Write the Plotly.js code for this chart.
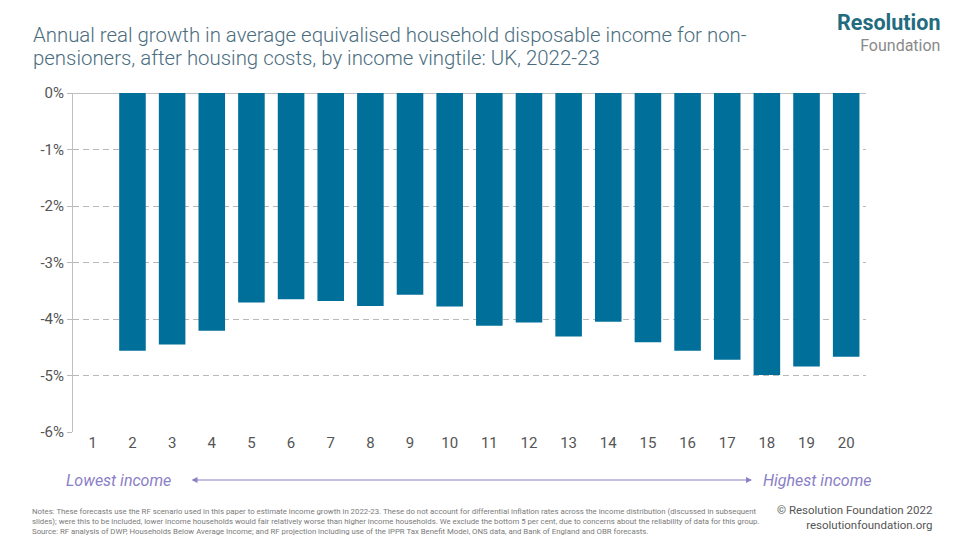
<!DOCTYPE html>
<html>
<head>
<meta charset="utf-8">
<script src="https://cdn.plot.ly/plotly-3.0.1.min.js"></script>
<style>html,body{margin:0;padding:0;background:#fff;}#chart{width:960px;height:540px;}</style>
</head>
<body>
<div id="chart"></div>
<script>
// Data
const vingtiles = ['1','2','3','4','5','6','7','8','9','10','11','12','13','14','15','16','17','18','19','20'];
const growth = [null, -4.56, -4.45, -4.21, -3.71, -3.65, -3.68, -3.77, -3.57, -3.78, -4.12, -4.06, -4.31, -4.05, -4.41, -4.56, -4.72, -4.99, -4.84, -4.67];
const yTickVals = [-6, -5, -4, -3, -2, -1, 0];
const yTickText = ['-6%', '-5%', '-4%', '-3%', '-2%', '-1%', '0%'];

const titleLine1 = 'Annual real growth in average equivalised household disposable income for non-';
const titleLine2 = 'pensioners, after housing costs, by income vingtile: UK, 2022-23';
const notesText = 'Notes: These forecasts use the RF scenario used in this paper to estimate income growth in 2022-23. These do not account for differential inflation rates across the income distribution (discussed in subsequent<br>' +
  'slides); were this to be included, lower income households would fair relatively worse than higher income households. We exclude the bottom 5 per cent, due to concerns about the reliability of data for this group.<br>' +
  'Source: RF analysis of DWP, Households Below Average Income; and RF projection including use of the IPPR Tax Benefit Model, ONS data, and Bank of England and OBR forecasts.';

const barColor = '#006f9a';
const purple = '#8a80c6';
const font = 'Roboto, "Open Sans", sans-serif';

// pixel helpers for layout placement (paper coordinates)
const L = 73, R = 866, T = 93, B = 432;
const px = v => (v - L) / (R - L);
const py = v => (B - v) / (B - T);

const trace = {
  type: 'bar',
  x: vingtiles,
  y: growth,
  marker: {color: barColor},
  hoverinfo: 'x+y'
};

const titleFont = {family: font, size: 20.4, color: '#4a6d7e', weight: 300};

const layout = {
  width: 960, height: 540,
  margin: {l: L, r: 960 - R, t: T, b: 540 - B},
  paper_bgcolor: '#ffffff', plot_bgcolor: '#ffffff',
  font: {family: font, color: '#555555'},
  showlegend: false,
  bargap: 0.33,
  xaxis: {
    type: 'category',
    range: [-0.5, 19.5],
    showgrid: false, zeroline: false, showline: false,
    ticks: '', ticklen: 0,
    tickfont: {family: font, size: 15, color: '#555555'},
    fixedrange: true
  },
  yaxis: {
    range: [-6, 0],
    tickvals: yTickVals, ticktext: yTickText,
    showgrid: true, gridcolor: '#b8b8b8', griddash: '6px,4px', gridwidth: 1,
    zeroline: true, zerolinecolor: '#c0c0c0', zerolinewidth: 1,
    showline: true, linecolor: '#c0c0c0', linewidth: 1,
    ticks: 'outside', ticklen: 5, tickcolor: '#b8b8b8',
    tickfont: {family: font, size: 15, color: '#555555'},
    fixedrange: true
  },
  annotations: [
    {xref: 'paper', yref: 'paper', x: px(31), y: py(35), xanchor: 'left', yanchor: 'middle',
     text: titleLine1, showarrow: false, font: titleFont},
    {xref: 'paper', yref: 'paper', x: px(31), y: py(58), xanchor: 'left', yanchor: 'middle',
     text: titleLine2, showarrow: false, font: titleFont},
    {xref: 'paper', yref: 'paper', x: px(874), y: py(480), xanchor: 'right', yanchor: 'middle',
     text: 'Highest income', showarrow: false, font: {family: font, size: 16, color: purple, style: 'italic'}},
    {xref: 'paper', yref: 'paper', x: px(64), y: py(480), xanchor: 'left', yanchor: 'middle',
     text: 'Lowest income', showarrow: false, font: {family: font, size: 16, color: purple, style: 'italic'}},
    {xref: 'paper', yref: 'paper', x: px(752), y: py(480), ax: -562, ay: 0, axref: 'pixel', ayref: 'pixel',
     text: '', showarrow: true, arrowside: 'end+start', arrowhead: 2, arrowsize: 1.2, arrowwidth: 1, arrowcolor: purple},
    {xref: 'paper', yref: 'paper', x: px(30), y: py(521), xanchor: 'left', yanchor: 'middle',
     text: notesText, showarrow: false, align: 'left', font: {family: font, size: 7.8, color: '#7a7a7a'}},
    {xref: 'paper', yref: 'paper', x: px(935), y: py(517), xanchor: 'right', yanchor: 'middle',
     text: '© Resolution Foundation 2022<br>resolutionfoundation.org', showarrow: false, align: 'right',
     font: {family: font, size: 11.5, color: '#555555'}},
    {xref: 'paper', yref: 'paper', x: px(942), y: py(32), xanchor: 'right', yanchor: 'middle',
     text: '<span style="font-size:21.5px;color:#236c80"><b>Resolution</b></span><br>Foundation',
     showarrow: false, align: 'right', font: {family: font, size: 16, color: '#8a8a8a'}}
  ]
};

Plotly.newPlot('chart', [trace], layout, {displayModeBar: false, staticPlot: true});
</script>
</body>
</html>
